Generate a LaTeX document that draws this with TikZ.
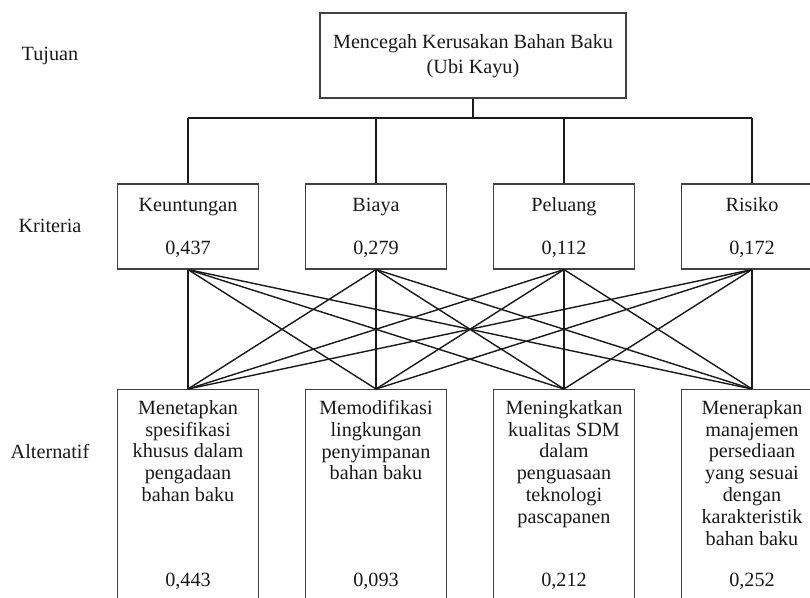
\documentclass[tikz,border=0pt]{standalone}
\usepackage{fontspec}
\setmainfont{Liberation Serif}
\begin{document}
\begin{tikzpicture}[x=1pt,y=1pt,
  box/.style={draw=black!75, line width=1.1pt, rectangle, inner sep=0pt},
  txt/.style={font=\fontsize{20.2}{21.8}\selectfont, text=black!90, inner sep=0pt},
  link/.style={draw=black!90, line width=1.4pt}]
\useasboundingbox (0,0) rectangle (810,597);
\clip (0,0) rectangle (810,597);

% goal
\node[box, minimum width=306pt, minimum height=85pt] (goal) at (473,541.5) {};
\node[txt, anchor=base] (goalt1) at (473,548) {Mencegah Kerusakan Bahan Baku};
\node[txt, anchor=base] (goalt2) at (473,523) {(Ubi Kayu)};

% level labels
\node[txt, anchor=base] (lTujuan) at (50,536) {Tujuan};
\node[txt, anchor=base] (lKriteria) at (50,364) {Kriteria};
\node[txt, anchor=base] (lAlternatif) at (50,139) {Alternatif};

% criteria
\foreach \n/\x/\name/\val in {1/188/Keuntungan/{0,437}, 2/376/Biaya/{0,279}, 3/564/Peluang/{0,112}, 4/752/Risiko/{0,172}} {
  \node[box, minimum width=141pt, minimum height=85pt] (k\n) at (\x,370.5) {};
  \node[txt, anchor=base] (kn\n) at (\x,385) {\name};
  \node[txt, anchor=base] (kv\n) at (\x,342) {\val};
}

% alternatives
\node[box, minimum width=141pt, minimum height=240pt, anchor=north] (a1) at (188,208) {};
\node[box, minimum width=141pt, minimum height=240pt, anchor=north] (a2) at (376,208) {};
\node[box, minimum width=141pt, minimum height=240pt, anchor=north] (a3) at (564,208) {};
\node[box, minimum width=141pt, minimum height=240pt, anchor=north] (a4) at (752,208) {};

\node[txt, align=center, anchor=north] (a1t) at (188,197) {Menetapkan\\spesifikasi\\khusus dalam\\pengadaan\\bahan baku};
\node[txt, align=center, anchor=north] (a2t) at (376,197) {Memodifikasi\\lingkungan\\penyimpanan\\bahan baku};
\node[txt, align=center, anchor=north] (a3t) at (564,197) {Meningkatkan\\kualitas SDM\\dalam\\penguasaan\\teknologi\\pascapanen};
\node[txt, align=center, anchor=north] (a4t) at (752,197) {Menerapkan\\manajemen\\persediaan\\yang sesuai\\dengan\\karakteristik\\bahan baku};

\node[txt, anchor=base] (av1) at (188,11) {0,443};
\node[txt, anchor=base] (av2) at (376,11) {0,093};
\node[txt, anchor=base] (av3) at (564,11) {0,212};
\node[txt, anchor=base] (av4) at (752,11) {0,252};

% goal to criteria
\coordinate (busM) at (473,479);
\coordinate (busL) at (188,479);
\coordinate (busR) at (752,479);
\draw[link] (goal.south) -- (busM);
\draw[link] (busL) -- (busR);
\foreach \n in {1,2,3,4} {
  \draw[link] (k\n.north) -- (k\n.north |- busM);
}

% criteria to alternatives
\foreach \i in {1,2,3,4} {
  \foreach \j in {1,2,3,4} {
    \draw[link] (k\i.south) -- (a\j.north);
  }
}
\end{tikzpicture}
\end{document}
